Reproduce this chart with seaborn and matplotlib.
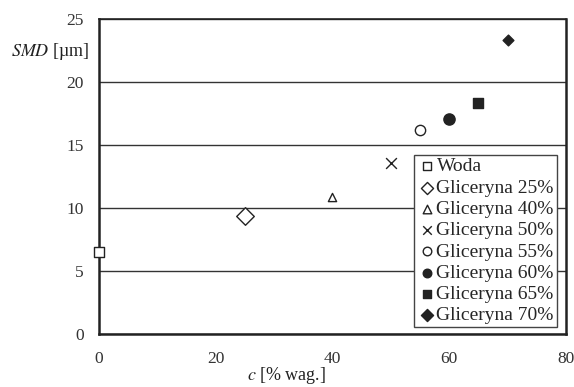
import matplotlib
matplotlib.use("Agg")
import matplotlib.pyplot as plt
import seaborn as sns

# data
labels = ['Woda', 'Gliceryna 25%', 'Gliceryna 40%', 'Gliceryna 50%',
          'Gliceryna 55%', 'Gliceryna 60%', 'Gliceryna 65%', 'Gliceryna 70%']
conc = [0, 25, 40, 50, 55, 60, 65, 70]
smd = [6.5, 9.4, 10.9, 13.6, 16.2, 17.1, 18.3, 23.3]

# marker style per series
markers = ['s', 'D', '^', 'x', 'o', 'o', 's', 'D']
filled = [False, False, False, False, False, True, True, True]
sizes = [55, 80, 35, 60, 55, 65, 60, 30]

sns.set_theme(style='white')
plt.rcParams['font.family'] = ['Liberation Serif', 'DejaVu Serif']
plt.rcParams['mathtext.fontset'] = 'stix'

ink = '#222222'
fig = plt.figure(figsize=(5.74, 3.87), dpi=100)
ax = fig.add_axes([0.1725, 0.137, 0.8135, 0.814])

for lab, xv, yv, m, f, s in zip(labels, conc, smd, markers, filled, sizes):
    if m == 'x':
        sns.scatterplot(x=[xv], y=[yv], marker='x', color=ink, s=s,
                        linewidth=1.0, label=lab, ax=ax, zorder=3, clip_on=False)
    else:
        sns.scatterplot(x=[xv], y=[yv], marker=m, s=s,
                        facecolor=ink if f else 'white', edgecolor=ink,
                        linewidth=1.0, label=lab, ax=ax, zorder=3, clip_on=False)

ax.set_xlim(0, 80)
ax.set_ylim(0, 25)
ax.set_xticks([0, 20, 40, 60, 80])
ax.set_yticks([0, 5, 10, 15, 20, 25])
ax.tick_params(length=0, labelsize=12.5, colors='#333333')
ax.tick_params(axis='y', pad=11)
ax.tick_params(axis='x', pad=12)
ax.yaxis.grid(True, color='#333333', linewidth=1.0)
ax.set_axisbelow(True)
for sp in ax.spines.values():
    sp.set_color(ink)
    sp.set_linewidth(1.8)
ax.spines['top'].set_linewidth(1.2)

ax.set_xlabel('')
ax.set_ylabel('')
fig.text(0.088, 0.866, r'$\it{SMD}$ [µm]', ha='center', va='center',
         fontsize=13, color=ink)
fig.text(0.50, 0.03, r'$\it{c}$ [% wag.]', ha='center', va='center',
         fontsize=13, color=ink)

leg = ax.legend(loc='upper right', bbox_to_anchor=(0.970, 0.600),
                bbox_transform=fig.transFigure, fontsize=14,
                frameon=True, fancybox=False, borderpad=0.15,
                labelspacing=0.19, handletextpad=0.0, handlelength=1.0,
                borderaxespad=0)
# legend symbols all roughly the same size, as in the reference
for h in leg.legend_handles:
    h.set_sizes([38])
leg.get_frame().set_edgecolor('#444444')
leg.get_frame().set_linewidth(1.0)
leg.get_frame().set_alpha(1)

fig.savefig('out.png', dpi=100)
